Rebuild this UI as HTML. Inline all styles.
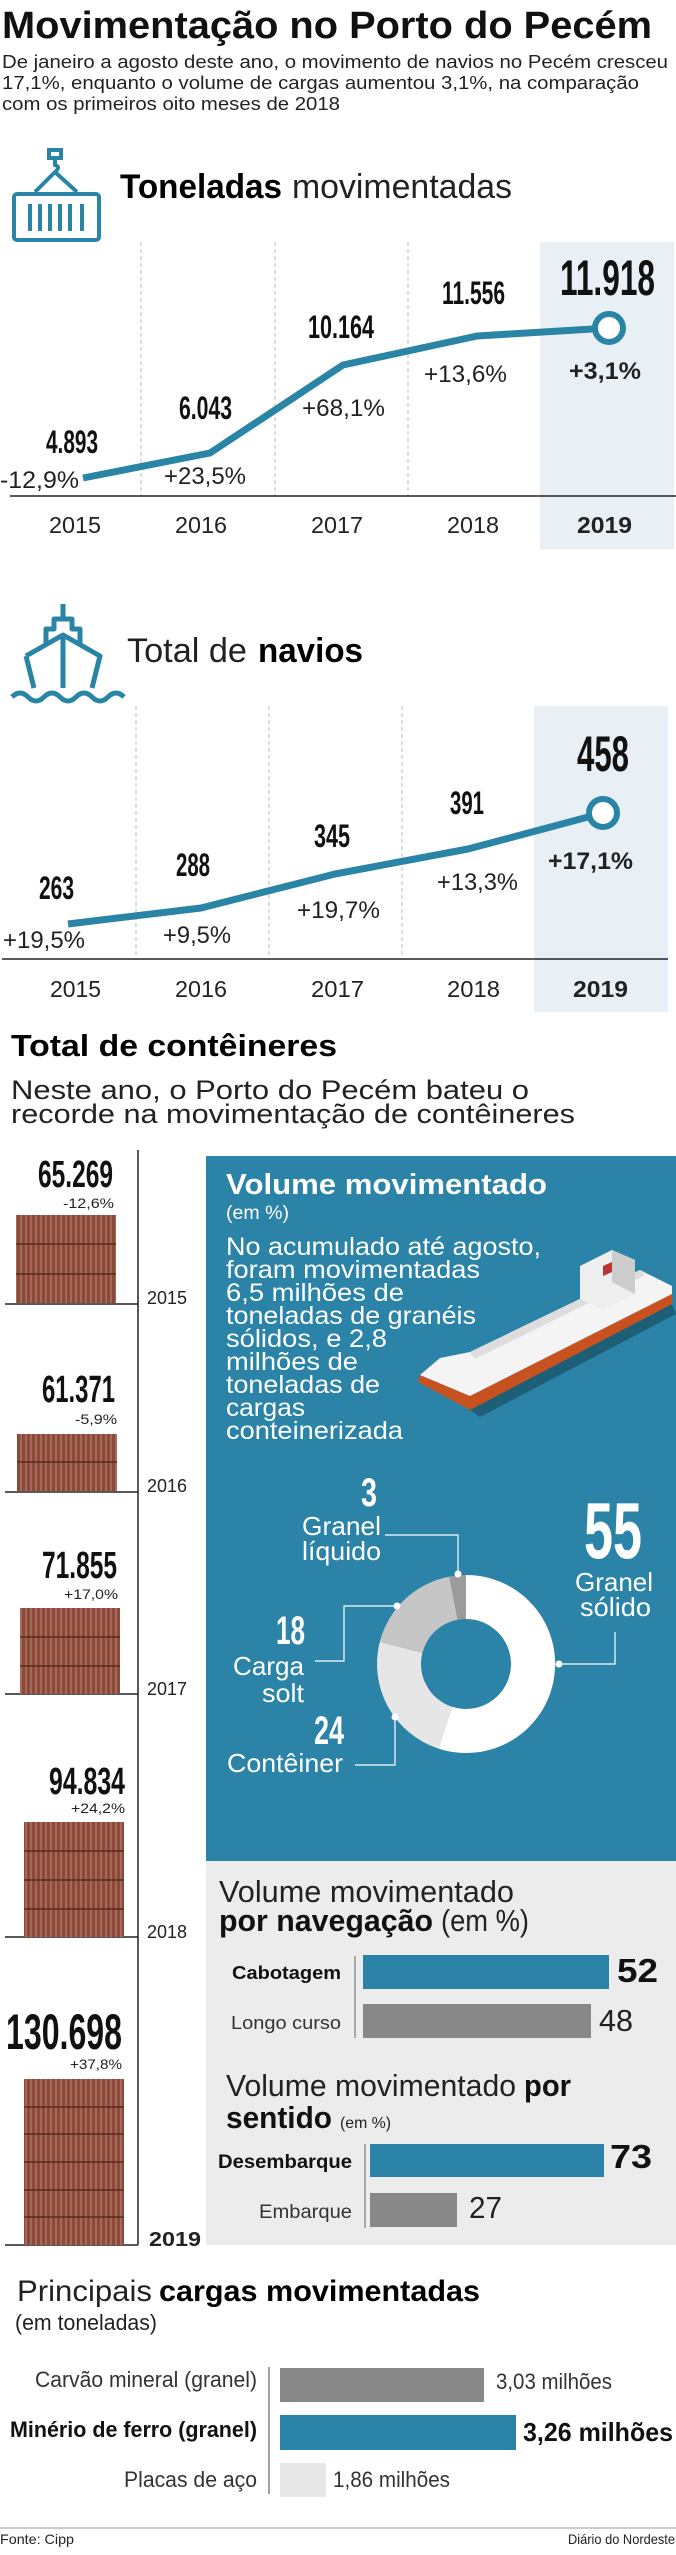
<!DOCTYPE html>
<html><head><meta charset="utf-8"><style>
html,body{margin:0;padding:0;background:#fff;}
svg{display:block;}
text{font-family:"Liberation Sans",sans-serif;}
.b{font-weight:bold;}
</style></head><body>
<svg width="676" height="2555" viewBox="0 0 676 2555" xmlns="http://www.w3.org/2000/svg">
<defs>
<pattern id="ct" width="5" height="10" patternUnits="userSpaceOnUse">
<rect width="5" height="10" fill="#8a4a3a"/><rect x="0" width="2" height="10" fill="#a8695a"/>
</pattern>
</defs>
<!-- Title -->
<text x="2" y="38" font-size="38" class="b" textLength="650" lengthAdjust="spacingAndGlyphs" fill="#111">Movimentação no Porto do Pecém</text>
<g font-size="18" fill="#222">
<text x="2" y="68" textLength="666" lengthAdjust="spacingAndGlyphs">De janeiro a agosto deste ano, o movimento de navios no Pecém cresceu</text>
<text x="2" y="89" textLength="637" lengthAdjust="spacingAndGlyphs">17,1%, enquanto o volume de cargas aumentou 3,1%, na comparação</text>
<text x="2" y="110" textLength="338" lengthAdjust="spacingAndGlyphs">com os primeiros oito meses de 2018</text>
</g>
<!-- container icon -->
<g stroke="#2a84a6" fill="none" stroke-width="4">
<rect x="49" y="150" width="12" height="8"/>
<path d="M55 158 v7 q6 2 0 7 M55 172 L35 192 M55 172 L77 192"/>
<rect x="14" y="194" width="85" height="46" rx="3"/>
<path d="M30 204v27M40 204v27M50 204v27M60 204v27M70 204v27M82 204v27"/>
</g>
<text x="120" y="198" font-size="34" class="b" textLength="162" lengthAdjust="spacingAndGlyphs">Toneladas</text>
<text x="292" y="198" font-size="34" textLength="220" lengthAdjust="spacingAndGlyphs" fill="#222">movimentadas</text>
<!-- chart 1 -->
<rect x="540" y="242" width="134" height="307" fill="#e8f0f6"/>
<g stroke="#bbb" stroke-dasharray="4,3" stroke-width="1">
<path d="M141 242V496M275 242V496M408 242V496"/></g>
<path d="M10 496H676" stroke="#222" stroke-width="1.5"/>
<polyline points="83,478 210,453 343,365 477,336 609,328" fill="none" stroke="#2a84a6" stroke-width="7" stroke-linejoin="round"/>
<circle cx="609" cy="328" r="14" fill="#fff" stroke="#2a84a6" stroke-width="6"/>
<g class="b" fill="#111" font-size="32">
<text x="46" y="453" textLength="52" lengthAdjust="spacingAndGlyphs">4.893</text>
<text x="179" y="419" textLength="53" lengthAdjust="spacingAndGlyphs">6.043</text>
<text x="308" y="338" textLength="66" lengthAdjust="spacingAndGlyphs">10.164</text>
<text x="442" y="304" textLength="63" lengthAdjust="spacingAndGlyphs">11.556</text>
<text x="560" y="295" font-size="50" textLength="95" lengthAdjust="spacingAndGlyphs">11.918</text>
</g>
<g font-size="24" fill="#222">
<text x="0" y="488" textLength="79" lengthAdjust="spacingAndGlyphs">-12,9%</text>
<text x="164" y="484" textLength="82" lengthAdjust="spacingAndGlyphs">+23,5%</text>
<text x="302" y="416" textLength="83" lengthAdjust="spacingAndGlyphs">+68,1%</text>
<text x="424" y="382" textLength="83" lengthAdjust="spacingAndGlyphs">+13,6%</text>
<text x="569" y="379" class="b" textLength="72" lengthAdjust="spacingAndGlyphs">+3,1%</text>
</g>
<g font-size="23" fill="#222">
<text x="49" y="533" textLength="52" lengthAdjust="spacingAndGlyphs">2015</text>
<text x="175" y="533" textLength="52" lengthAdjust="spacingAndGlyphs">2016</text>
<text x="311" y="533" textLength="52" lengthAdjust="spacingAndGlyphs">2017</text>
<text x="447" y="533" textLength="52" lengthAdjust="spacingAndGlyphs">2018</text>
<text x="577" y="533" class="b" textLength="55" lengthAdjust="spacingAndGlyphs">2019</text>
</g>
<!-- ship icon -->
<g stroke="#2a84a6" fill="none" stroke-width="5" stroke-linejoin="round">
<path d="M63 604v15"/>
<path d="M46 645v-16h8v-10h18v10h8v16"/>
<path d="M26 656L63 635L100 656L92 688M26 656L34 688M63 635v53"/>
<path d="M12 697q8-8 16 0t16 0t16 0t16 0t16 0t16 0t16 0"/>
</g>
<text x="127" y="662" font-size="34" textLength="120" lengthAdjust="spacingAndGlyphs" fill="#222">Total de</text>
<text x="258" y="662" font-size="34" class="b" textLength="105" lengthAdjust="spacingAndGlyphs">navios</text>
<!-- chart 2 -->
<rect x="534" y="706" width="134" height="306" fill="#e8f0f6"/>
<g stroke="#bbb" stroke-dasharray="4,3" stroke-width="1">
<path d="M136 706V959M269 706V959M402 706V959"/></g>
<path d="M2 959H668" stroke="#222" stroke-width="1.5"/>
<polyline points="68,924 201,908 335,874 468,849 603,813" fill="none" stroke="#2a84a6" stroke-width="7" stroke-linejoin="round"/>
<circle cx="603" cy="813" r="14" fill="#fff" stroke="#2a84a6" stroke-width="6"/>
<g class="b" fill="#111" font-size="32">
<text x="39" y="899" textLength="35" lengthAdjust="spacingAndGlyphs">263</text>
<text x="176" y="876" textLength="34" lengthAdjust="spacingAndGlyphs">288</text>
<text x="314" y="847" textLength="36" lengthAdjust="spacingAndGlyphs">345</text>
<text x="450" y="814" textLength="34" lengthAdjust="spacingAndGlyphs">391</text>
<text x="577" y="771" font-size="50" textLength="52" lengthAdjust="spacingAndGlyphs">458</text>
</g>
<g font-size="24" fill="#222">
<text x="3" y="948" textLength="82" lengthAdjust="spacingAndGlyphs">+19,5%</text>
<text x="163" y="943" textLength="68" lengthAdjust="spacingAndGlyphs">+9,5%</text>
<text x="297" y="918" textLength="83" lengthAdjust="spacingAndGlyphs">+19,7%</text>
<text x="437" y="890" textLength="81" lengthAdjust="spacingAndGlyphs">+13,3%</text>
<text x="548" y="869" class="b" textLength="85" lengthAdjust="spacingAndGlyphs">+17,1%</text>
</g>
<g font-size="23" fill="#222">
<text x="50" y="997" textLength="51" lengthAdjust="spacingAndGlyphs">2015</text>
<text x="175" y="997" textLength="52" lengthAdjust="spacingAndGlyphs">2016</text>
<text x="311" y="997" textLength="53" lengthAdjust="spacingAndGlyphs">2017</text>
<text x="447" y="997" textLength="53" lengthAdjust="spacingAndGlyphs">2018</text>
<text x="573" y="997" class="b" textLength="55" lengthAdjust="spacingAndGlyphs">2019</text>
</g>
<!-- containers section -->
<text x="11" y="1056" font-size="31" class="b" textLength="326" lengthAdjust="spacingAndGlyphs">Total de contêineres</text>
<text x="11" y="1099" font-size="27" textLength="518" lengthAdjust="spacingAndGlyphs" fill="#222">Neste ano, o Porto do Pecém bateu o</text>
<text x="11" y="1123" font-size="27" textLength="564" lengthAdjust="spacingAndGlyphs" fill="#222">recorde na movimentação de contêineres</text>

<path d="M138 1150V2245" stroke="#222" stroke-width="1.5"/>
<g stroke="#222" stroke-width="1.5">
<path d="M5 1304H138M5 1492H138M5 1694H138M5 1937H138M5 2245H138"/></g>
<g>
<rect x="16" y="1215" width="100" height="88" fill="url(#ct)"/>
<rect x="17" y="1434" width="100" height="57" fill="url(#ct)"/>
<rect x="20" y="1608" width="100" height="86" fill="url(#ct)"/>
<rect x="24" y="1822" width="100" height="115" fill="url(#ct)"/>
<rect x="24" y="2079" width="100" height="166" fill="url(#ct)"/>
</g>
<g stroke="#5a2a20" stroke-width="1.5">
<path d="M16 1244H116M16 1274H116M17 1462H117M20 1637H120M20 1666H120M24 1851H124M24 1880H124M24 1909H124M24 2107H124M24 2134H124M24 2162H124M24 2190H124M24 2217H124"/>
</g>
<g class="b" fill="#111" font-size="38">
<text x="38" y="1187" textLength="75" lengthAdjust="spacingAndGlyphs">65.269</text>
<text x="42" y="1402" textLength="73" lengthAdjust="spacingAndGlyphs">61.371</text>
<text x="42" y="1578" textLength="75" lengthAdjust="spacingAndGlyphs">71.855</text>
<text x="49" y="1794" textLength="76" lengthAdjust="spacingAndGlyphs">94.834</text>
<text x="6" y="2049" font-size="50" textLength="116" lengthAdjust="spacingAndGlyphs">130.698</text>
</g>
<g font-size="14" fill="#222">
<text x="63" y="1208" textLength="51" lengthAdjust="spacingAndGlyphs">-12,6%</text>
<text x="75" y="1424" textLength="42" lengthAdjust="spacingAndGlyphs">-5,9%</text>
<text x="64" y="1599" textLength="54" lengthAdjust="spacingAndGlyphs">+17,0%</text>
<text x="71" y="1813" textLength="54" lengthAdjust="spacingAndGlyphs">+24,2%</text>
<text x="70" y="2069" textLength="52" lengthAdjust="spacingAndGlyphs">+37,8%</text>
</g>
<g font-size="18" fill="#222">
<text x="147" y="1304" textLength="40" lengthAdjust="spacingAndGlyphs">2015</text>
<text x="147" y="1492" textLength="40" lengthAdjust="spacingAndGlyphs">2016</text>
<text x="147" y="1695" textLength="40" lengthAdjust="spacingAndGlyphs">2017</text>
<text x="147" y="1938" textLength="40" lengthAdjust="spacingAndGlyphs">2018</text>
<text x="149" y="2246" font-size="20" class="b" textLength="52" lengthAdjust="spacingAndGlyphs">2019</text>
</g>
<!-- blue panel -->
<rect x="206" y="1156" width="470" height="705" fill="#2b84a7"/>
<rect x="206" y="1861" width="470" height="384" fill="#ececec"/>
<!-- ship illustration -->
<g>
<polygon points="418,1382 470,1410 672,1304 672,1294 470,1396 420,1375" fill="#c8521f"/>
<polygon points="420,1375 440,1358 470,1352 640,1270 672,1286 672,1294 470,1396" fill="#f4f4f4"/>
<polygon points="470,1352 640,1270 645,1275 475,1359" fill="#ddd"/>
<polygon points="580,1266 612,1250 635,1260 635,1294 603,1310 580,1299" fill="#eee"/>
<polygon points="612,1250 635,1260 635,1294 612,1282" fill="#ccc"/>
<polygon points="603,1266 612,1262 612,1272 603,1276" fill="#b33"/>
<polygon points="470,1410 672,1304 676,1314 480,1417" fill="#1e5f78"/>
</g>
<g fill="#fff">
<text x="226" y="1194" font-size="29" class="b" textLength="321" lengthAdjust="spacingAndGlyphs">Volume movimentado</text>
<text x="226" y="1219" font-size="19" textLength="63" lengthAdjust="spacingAndGlyphs">(em %)</text>
<g font-size="25">
<text x="226" y="1255" textLength="315" lengthAdjust="spacingAndGlyphs">No acumulado até agosto,</text>
<text x="226" y="1278" textLength="254" lengthAdjust="spacingAndGlyphs">foram movimentadas</text>
<text x="226" y="1301" textLength="178" lengthAdjust="spacingAndGlyphs">6,5 milhões de</text>
<text x="226" y="1324" textLength="250" lengthAdjust="spacingAndGlyphs">toneladas de granéis</text>
<text x="226" y="1347" textLength="161" lengthAdjust="spacingAndGlyphs">sólidos, e 2,8</text>
<text x="226" y="1370" textLength="132" lengthAdjust="spacingAndGlyphs">milhões de</text>
<text x="226" y="1393" textLength="154" lengthAdjust="spacingAndGlyphs">toneladas de</text>
<text x="226" y="1416" textLength="79" lengthAdjust="spacingAndGlyphs">cargas</text>
<text x="226" y="1439" textLength="177" lengthAdjust="spacingAndGlyphs">conteinerizada</text>
</g>
</g>
<!-- donut -->
<g transform="translate(466,1664)">
<path d="M0,-89 A89,89 0 1 1 -27.5,84.6 L-13.9,42.8 A45,45 0 1 0 0,-45 Z" fill="#fff"/>
<path d="M-27.5,84.6 A89,89 0 0 1 -86.2,-22.1 L-43.6,-11.2 A45,45 0 0 0 -13.9,42.8 Z" fill="#e6e6e6"/>
<path d="M-86.2,-22.1 A89,89 0 0 1 -16.7,-87.4 L-8.4,-44.2 A45,45 0 0 0 -43.6,-11.2 Z" fill="#c6c6c6"/>
<path d="M-16.7,-87.4 A89,89 0 0 1 0,-89 L0,-45 A45,45 0 0 0 -8.4,-44.2 Z" fill="#9c9c9c"/>
</g>
<g stroke="#fff" fill="none" stroke-width="1.2">
<path d="M385 1535H458V1574"/>
<path d="M615 1632V1664H559"/>
<path d="M315 1661H344V1606H397"/>
<path d="M355 1765H395V1717"/>
</g>
<g fill="#fff"><circle cx="458" cy="1574" r="3.5"/><circle cx="559" cy="1664" r="3.5"/><circle cx="397" cy="1606" r="3.5"/><circle cx="395" cy="1717" r="3.5"/></g>
<g fill="#fff">
<text x="361" y="1506" font-size="40" class="b" textLength="16" lengthAdjust="spacingAndGlyphs">3</text>
<text x="302" y="1535" font-size="26" textLength="79" lengthAdjust="spacingAndGlyphs">Granel</text>
<text x="302" y="1560" font-size="26" textLength="79" lengthAdjust="spacingAndGlyphs">líquido</text>
<text x="584" y="1558" font-size="80" class="b" textLength="58" lengthAdjust="spacingAndGlyphs">55</text>
<text x="575" y="1591" font-size="26" textLength="78" lengthAdjust="spacingAndGlyphs">Granel</text>
<text x="580" y="1616" font-size="26" textLength="71" lengthAdjust="spacingAndGlyphs">sólido</text>
<text x="276" y="1644" font-size="40" class="b" textLength="29" lengthAdjust="spacingAndGlyphs">18</text>
<text x="233" y="1675" font-size="26" textLength="71" lengthAdjust="spacingAndGlyphs">Carga</text>
<text x="262" y="1702" font-size="26" textLength="42" lengthAdjust="spacingAndGlyphs">solt</text>
<text x="314" y="1744" font-size="40" class="b" textLength="30" lengthAdjust="spacingAndGlyphs">24</text>
<text x="227" y="1772" font-size="26" textLength="116" lengthAdjust="spacingAndGlyphs">Contêiner</text>
</g>
<!-- gray panel -->
<g fill="#111">
<text x="219" y="1902" font-size="31" textLength="295" lengthAdjust="spacingAndGlyphs" fill="#222">Volume movimentado</text>
<text x="219" y="1931" font-size="31" class="b" textLength="214" lengthAdjust="spacingAndGlyphs">por navegação</text>
<text x="441" y="1931" font-size="31" textLength="88" lengthAdjust="spacingAndGlyphs" fill="#222">(em %)</text>
<text x="232" y="1979" font-size="18" class="b" textLength="109" lengthAdjust="spacingAndGlyphs">Cabotagem</text>
<text x="231" y="2029" font-size="18" textLength="110" lengthAdjust="spacingAndGlyphs" fill="#333">Longo curso</text>
<text x="617" y="1982" font-size="33" class="b" textLength="41" lengthAdjust="spacingAndGlyphs">52</text>
<text x="599" y="2031" font-size="31" textLength="34" lengthAdjust="spacingAndGlyphs" fill="#222">48</text>
<text x="226" y="2096" font-size="31" textLength="290" lengthAdjust="spacingAndGlyphs" fill="#222">Volume movimentado</text>
<text x="524" y="2096" font-size="31" class="b" textLength="47" lengthAdjust="spacingAndGlyphs">por</text>
<text x="226" y="2128" font-size="31" class="b" textLength="106" lengthAdjust="spacingAndGlyphs">sentido</text>
<text x="340" y="2128" font-size="16" textLength="51" lengthAdjust="spacingAndGlyphs" fill="#222">(em %)</text>
<text x="218" y="2168" font-size="19" class="b" textLength="134" lengthAdjust="spacingAndGlyphs">Desembarque</text>
<text x="259" y="2218" font-size="19" textLength="93" lengthAdjust="spacingAndGlyphs" fill="#333">Embarque</text>
<text x="610" y="2168" font-size="33" class="b" textLength="42" lengthAdjust="spacingAndGlyphs">73</text>
<text x="469" y="2218" font-size="31" textLength="33" lengthAdjust="spacingAndGlyphs" fill="#222">27</text>
</g>
<path d="M355 1956V2038M365 2144V2228" stroke="#666" stroke-width="1"/>
<rect x="363" y="1955" width="246" height="34" fill="#2b84a7"/>
<rect x="363" y="2004" width="228" height="34" fill="#888"/>
<rect x="370" y="2144" width="234" height="33" fill="#2b84a7"/>
<rect x="370" y="2193" width="87" height="34" fill="#888"/>
<!-- Principais -->
<text x="17" y="2301" font-size="30" textLength="135" lengthAdjust="spacingAndGlyphs" fill="#222">Principais</text>
<text x="159" y="2301" font-size="30" class="b" textLength="321" lengthAdjust="spacingAndGlyphs">cargas movimentadas</text>
<text x="15" y="2330" font-size="22" textLength="142" lengthAdjust="spacingAndGlyphs" fill="#222">(em toneladas)</text>
<g font-size="22" fill="#333">
<text x="35" y="2387" textLength="222" lengthAdjust="spacingAndGlyphs">Carvão mineral (granel)</text>
<text x="10" y="2437" class="b" fill="#111" textLength="247" lengthAdjust="spacingAndGlyphs">Minério de ferro (granel)</text>
<text x="124" y="2487" textLength="133" lengthAdjust="spacingAndGlyphs">Placas de aço</text>
<text x="496" y="2389" textLength="116" lengthAdjust="spacingAndGlyphs">3,03 milhões</text>
<text x="523" y="2441" font-size="26" class="b" fill="#111" textLength="150" lengthAdjust="spacingAndGlyphs">3,26 milhões</text>
<text x="333" y="2487" textLength="117" lengthAdjust="spacingAndGlyphs">1,86 milhões</text>
</g>
<path d="M269 2367V2494" stroke="#444" stroke-width="1"/>
<rect x="280" y="2368" width="204" height="34" fill="#888"/>
<rect x="280" y="2415" width="236" height="35" fill="#2b84a7"/>
<rect x="280" y="2463" width="46" height="34" fill="#e8e8e8"/>
<!-- footer -->
<path d="M0 2528H676" stroke="#999" stroke-width="1"/>
<text x="0" y="2544" font-size="14" textLength="74" lengthAdjust="spacingAndGlyphs" fill="#222">Fonte: Cipp</text>
<text x="568" y="2544" font-size="14" textLength="107" lengthAdjust="spacingAndGlyphs" fill="#222">Diário do Nordeste</text>
</svg>
</body></html>
